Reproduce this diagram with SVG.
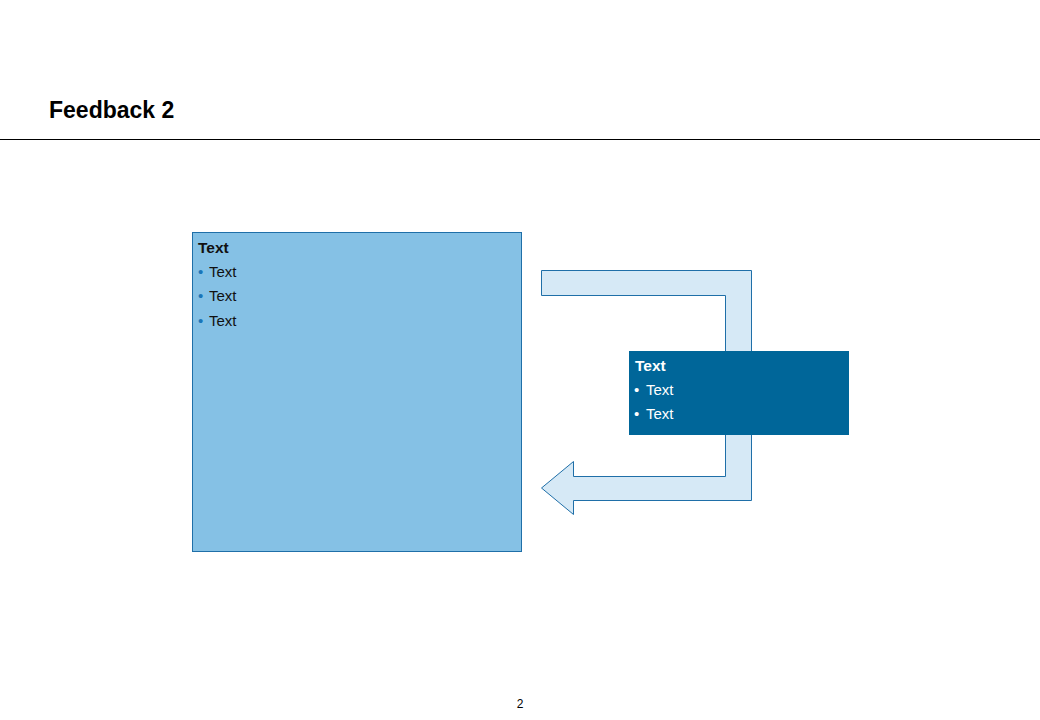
<svg xmlns="http://www.w3.org/2000/svg" width="1040" height="720" viewBox="0 0 1040 720">
<style>
.t{font-family:"Liberation Sans",Arial,sans-serif;font-size:15px}
.b{font-weight:bold;font-size:15.5px}
.dk{fill:#111}
.wh{fill:#fff}
.bu{fill:#1a75b8}
</style>
<rect width="1040" height="720" fill="#fff"/>
<text x="49" y="118" font-family="Liberation Sans,Arial,sans-serif" font-size="23" font-weight="bold" fill="#000">Feedback 2</text>
<line x1="0" y1="139.5" x2="1040" y2="139.5" stroke="#000" stroke-width="1"/>
<g id="connectors">
<polygon points="541.5,270.5 751.5,270.5 751.5,500.5 573.5,500.5 573.5,514.5 541.5,488 573.5,461.5 573.5,476.5 725.5,476.5 725.5,295.5 541.5,295.5" fill="#D6E9F6" stroke="#1F6FA8" stroke-width="1"/>
</g>
<g id="node-left">
<rect x="192.5" y="232.5" width="329" height="319" fill="#85C1E5" stroke="#1F6FA8" stroke-width="1"/>
<text x="198" y="253" class="t b dk">Text</text>
<text x="198" y="277" class="t bu">•</text><text x="209" y="277" class="t dk">Text</text>
<text x="198" y="301" class="t bu">•</text><text x="209" y="301" class="t dk">Text</text>
<text x="198" y="326" class="t bu">•</text><text x="209" y="326" class="t dk">Text</text>
</g>
<g id="node-right">
<rect x="629" y="351" width="220" height="84" fill="#006699"/>
<text x="635" y="371" class="t b wh">Text</text>
<text x="634" y="395" class="t wh">•</text><text x="646" y="395" class="t wh">Text</text>
<text x="634" y="419" class="t wh">•</text><text x="646" y="419" class="t wh">Text</text>
</g>
<text x="520" y="708" text-anchor="middle" font-family="Liberation Sans,Arial,sans-serif" font-size="12" fill="#000">2</text>
</svg>
